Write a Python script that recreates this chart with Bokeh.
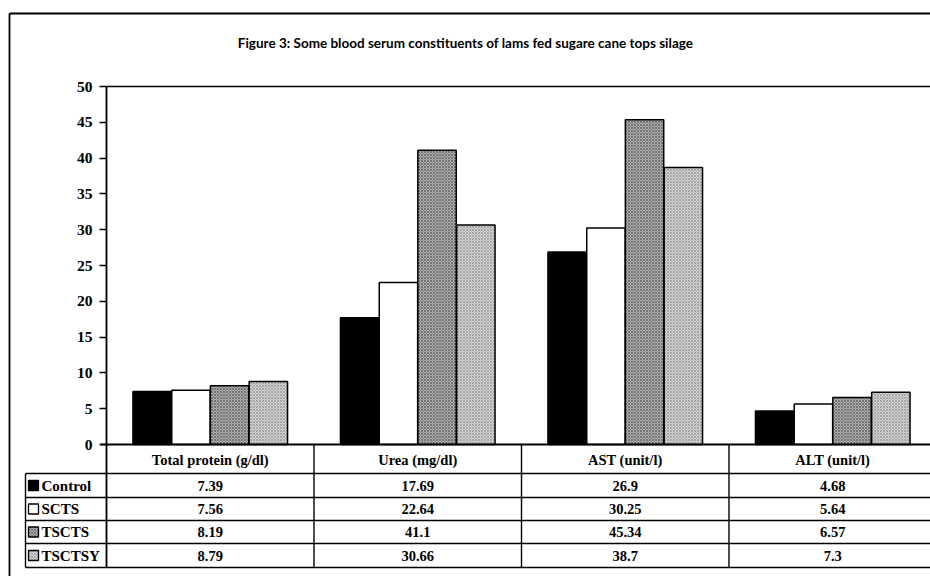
from bokeh.plotting import figure
from bokeh.models import Range1d, FixedTicker, LinearAxis, ColumnDataSource
from bokeh.core.properties import value
from bokeh.embed import file_html
from bokeh.resources import INLINE

# ---- data -------------------------------------------------------------
categories = ["Total protein (g/dl)", "Urea (mg/dl)", "AST (unit/l)", "ALT (unit/l)"]
series_names = ["Control", "SCTS", "TSCTS", "TSCTSY"]
control = [7.39, 17.69, 26.9, 4.68]
scts = [7.56, 22.64, 30.25, 5.64]
tscts = [8.19, 41.1, 45.34, 6.57]
tsctsy = [8.79, 30.66, 38.7, 7.3]
y_ticks = [0, 5, 10, 15, 20, 25, 30, 35, 40, 45, 50]
title_text = "Figure 3: Some blood serum constituents of lams fed sugare cane tops silage"

series_values = [control, scts, tscts, tsctsy]

# ---- geometry (the frame fills the whole canvas) ----------------------
W, H = 930, 576
LEFT = 106                     # pixel column of the value axis
CAT_PX = 207.5                 # pixel width of one category column
Y0_PX = 444                    # pixel row of value 0
Y50_PX = 86                    # pixel row of value 50
PX_PER_UNIT = (Y0_PX - Y50_PX) / 50.0


def xp(px):
    return (px - LEFT) / CAT_PX


def yp(py):
    return (Y0_PX - py) / PX_PER_UNIT


FONT = value("Liberation Serif")

p = figure(width=W, height=H, output_backend="svg", toolbar_location=None,
           x_range=Range1d(xp(0), xp(W)), y_range=Range1d(yp(H), yp(0)),
           x_axis_location=None, y_axis_location=None,
           min_border=0, min_border_left=0, min_border_right=0,
           min_border_top=0, min_border_bottom=0)
p.outline_line_color = None
p.xgrid.visible = False
p.ygrid.visible = False
p.background_fill_color = "white"
p.border_fill_color = "white"

X_END = xp(W + 5)
row_px = [473, 497, 520, 543, 567]
TABLE_BOTTOM = yp(row_px[-1])

# value axis pinned at the left edge of the first category
ax = LinearAxis(fixed_location=0, bounds=(TABLE_BOTTOM, 50), ticker=FixedTicker(ticks=y_ticks))
ax.axis_line_color = "black"
ax.axis_line_width = 1.8
ax.major_tick_line_color = "black"
ax.major_tick_line_width = 1.4
ax.major_tick_out = 7
ax.major_tick_in = 0
ax.minor_tick_line_color = None
ax.major_label_standoff = 7
ax.major_label_text_font = "Liberation Serif"
ax.major_label_text_font_style = "bold"
ax.major_label_text_font_size = "15.5px"
ax.major_label_text_color = "black"
p.add_layout(ax, "left")

# ---- bars -------------------------------------------------------------
offsets = [-0.28, -0.093, 0.093, 0.28]
bar_w = 0.185
styles = [
    dict(fill_color="black"),
    dict(fill_color="white"),
    dict(fill_color="#b0b0b0", hatch_pattern="x", hatch_color="#4a4a4a",
         hatch_scale=3, hatch_weight=0.6),
    dict(fill_color="#d4d4d4", hatch_pattern="x", hatch_color="#888888",
         hatch_scale=3, hatch_weight=0.6),
]
for vals, off, st in zip(series_values, offsets, styles):
    src = ColumnDataSource(dict(x=[i + 0.5 + off for i in range(len(categories))], top=vals))
    p.vbar(x="x", top="top", bottom=0, width=bar_w, source=src,
           line_color="black", line_width=1.5, **st)

# ---- plot frame lines -------------------------------------------------
p.segment(x0=[xp(100)], y0=[0], x1=[X_END], y1=[0], line_color="black", line_width=1.8)
p.segment(x0=[0], y0=[50], x1=[X_END], y1=[50], line_color="black", line_width=1.6)

# ---- table under the bars ---------------------------------------------
leg_left = xp(25)
# header bottom and row rules span the legend column too
p.segment(x0=[leg_left] * len(row_px), y0=[yp(r) for r in row_px],
          x1=[X_END] * len(row_px), y1=[yp(r) for r in row_px],
          line_color="black", line_width=1.4)
# vertical rules
p.segment(x0=[1, 2, 3], y0=[0] * 3, x1=[1, 2, 3], y1=[TABLE_BOTTOM] * 3,
          line_color="black", line_width=1.4)
p.segment(x0=[leg_left], y0=[yp(row_px[0])], x1=[leg_left], y1=[TABLE_BOTTOM],
          line_color="black", line_width=1.4)

# header cells
p.text(x=[i + 0.5 for i in range(len(categories))], y=[yp(459)] * len(categories),
       text=categories, text_font=FONT, text_font_style="bold",
       text_font_size="14.5px", text_align="center", text_baseline="middle",
       text_color="black")

# value cells
row_centers = [(row_px[i] + row_px[i + 1]) / 2 for i in range(4)]
tx, ty, tt = [], [], []
for r, vals in enumerate(series_values):
    for c, v in enumerate(vals):
        tx.append(c + 0.5)
        ty.append(yp(row_centers[r]))
        tt.append(f"{v:g}")
p.text(x=tx, y=ty, text=tt, text_font=FONT, text_font_style="bold",
       text_font_size="14.5px", text_align="center", text_baseline="middle",
       text_color="black")

# legend column: swatch + series name per row
for r in range(4):
    p.quad(left=[xp(28)], right=[xp(38)], top=[yp(row_centers[r] - 5)],
           bottom=[yp(row_centers[r] + 5)], line_color="black", line_width=1.3, **styles[r])
p.text(x=[xp(41)] * 4, y=[yp(c) for c in row_centers], text=series_names,
       text_font=FONT, text_font_style="bold", text_font_size="15px",
       text_baseline="middle", text_color="black")

# page frame and title
p.segment(x0=[xp(9), xp(9)], y0=[yp(13), yp(13)], x1=[X_END, xp(9)], y1=[yp(13), yp(H + 5)],
          line_color="black", line_width=1.8)
p.text(x=[xp(465)], y=[yp(42)], text=[title_text], text_font=value("Lato"),
       text_font_style="bold", text_font_size="13.5px", text_align="center",
       text_baseline="middle", text_color="black")

open("out.html", "w").write(file_html(p, INLINE))
